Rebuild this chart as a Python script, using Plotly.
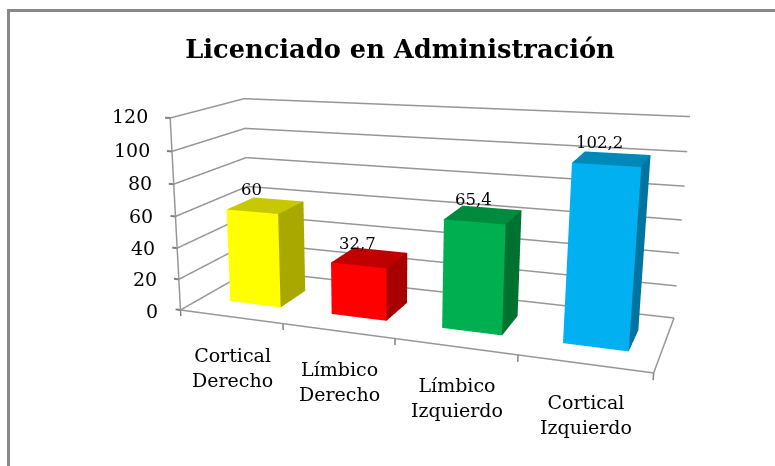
import plotly.graph_objects as go

categories = ["Cortical<br>Derecho", "Límbico<br>Derecho", "Límbico<br>Izquierdo", "Cortical<br>Izquierdo"]
values = [60, 32.7, 65.4, 102.2]
value_labels = ["60", "32,7", "65,4", "102,2"]
front_colors = ["#FFFF00", "#FF0000", "#00B050", "#00B0F0"]
top_colors = ["#C8C800", "#C00000", "#008A3E", "#0088B8"]
side_colors = ["#A8A800", "#A80000", "#00722F", "#0074A0"]
z_ticks = [0, 20, 40, 60, 80, 100, 120]
title = "Licenciado en Administración"

# Scene viewport: the camera below needs a long focal length, which Plotly ties to the
# viewport height, so the figure is larger than the window and offset to show the chart.
W, H = 926, 882
OX, OY = -151, -180
eye = dict(x=0.6848, y=-2.0856, z=0.5287)
center = dict(x=-0.2157, y=-0.1084, z=-0.0861)
up = dict(x=-0.0964, y=0.2552, z=0.9621)
asp_y, asp_z = 0.3344, 0.4260
bw, d0, d1 = 0.5068, 0.2897, 0.6831   # bar width and depth extent
xl, xr = -0.0448, 3.9875              # floor extent along the category axis
label_dx = [0, 0, 0, -6]
tick_dy = [-1, 0, 0, 0, 1, 1, 2]

GRID = "#969696"
TICK = "#808080"
FONT = "DejaVu Serif"

fig = go.Figure()


def line(xs, ys, zs, width=3, color=GRID):
    fig.add_trace(go.Scatter3d(x=xs, y=ys, z=zs, mode="lines", line=dict(color=color, width=width),
                               hoverinfo="skip", showlegend=False))


for z in z_ticks:
    line([xl, xl, xr], [0, 1, 1], [z, z, z])
    line([xl - 0.05, xl], [0, 0], [z, z], width=4, color=TICK)
line([xl, xl], [0, 0], [0, 120])
line([xl, xr, xr], [0, 0, 1], [0, 0, 0])
for i in range(5):
    xt = xl + (xr - xl) * i / 4
    line([xt, xt], [0, 0], [0, -4], color=TICK)

for i, v in enumerate(values):
    x0, x1 = i + .5 - bw / 2, i + .5 + bw / 2
    xs = [x0, x1, x1, x0, x0, x1, x1, x0]
    ys = [d0, d0, d1, d1] * 2
    zs = [0] * 4 + [v] * 4
    I = [0, 0, 4, 4, 1, 1]
    J = [1, 5, 5, 6, 2, 6]
    K = [5, 4, 6, 7, 6, 5]
    fc = [front_colors[i]] * 2 + [top_colors[i]] * 2 + [side_colors[i]] * 2
    fig.add_trace(go.Mesh3d(x=xs, y=ys, z=zs, i=I, j=J, k=K, facecolor=fc, flatshading=True,
                            lighting=dict(ambient=1, diffuse=0, specular=0, roughness=1, fresnel=0),
                            hoverinfo="skip", showscale=False))

ann = []
for n, z in enumerate(z_ticks):
    ann.append(dict(x=xl, y=0, z=z, text=str(z), showarrow=False, xanchor="right", yanchor="middle",
                    xshift=-20, yshift=tick_dy[n], font=dict(family=FONT, size=19, color="#000")))
for i, t in enumerate(categories):
    ann.append(dict(x=xl + (xr - xl) * (i + .5) / 4, y=0, z=0, text=t, showarrow=False, xanchor="center",
                    yanchor="top", yshift=-25, xshift=2, font=dict(family=FONT, size=19, color="#000")))
for i, t in enumerate(value_labels):
    ann.append(dict(x=i + .5, y=d0, z=values[i], text=t, showarrow=False, xanchor="center", yanchor="middle",
                    yshift=22, xshift=-1 + label_dx[i], font=dict(family=FONT, size=16.5, color="#000")))

hidden = dict(visible=False, showgrid=False, showline=False, showticklabels=False, showbackground=False,
              showspikes=False, zeroline=False, title="")
px = lambda v: (v - OX) / W
py = lambda v: 1 - (v - OY) / H

fig.update_layout(
    width=W, height=H, margin=dict(l=0, r=0, t=0, b=0), paper_bgcolor="white", showlegend=False, autosize=False,
    title=dict(text=title, x=px(400), xanchor="center", y=py(49), yanchor="middle",
               font=dict(family=FONT, size=25.7, color="#000", weight="bold")),
    scene=dict(domain=dict(x=[0, 1], y=[0, 1]), aspectmode="manual",
               aspectratio=dict(x=1.2, y=asp_y * 1.5, z=asp_z * 1.2),
               xaxis=dict(range=[-0.4, 4.4], **hidden), yaxis=dict(range=[-0.25, 1.25], **hidden),
               zaxis=dict(range=[-12, 132], **hidden),
               camera=dict(eye=eye, center=center, up=up, projection=dict(type="perspective")),
               annotations=ann),
    shapes=[dict(type="rect", xref="paper", yref="paper", x0=px(7), x1=px(10), y0=py(466), y1=py(9),
                 fillcolor="#888", line_width=0),
            dict(type="rect", xref="paper", yref="paper", x0=px(7), x1=px(775), y0=py(12), y1=py(9),
                 fillcolor="#888", line_width=0)],
)
fig.write_html("out.html", config=dict(displayModeBar=False),
               post_script="document.body.style.margin='0';document.body.style.overflow='hidden';"
                           "var g=document.querySelector('.plotly-graph-div');g.style.position='absolute';"
                           "g.style.left='%dpx';g.style.top='%dpx';" % (OX, OY))
